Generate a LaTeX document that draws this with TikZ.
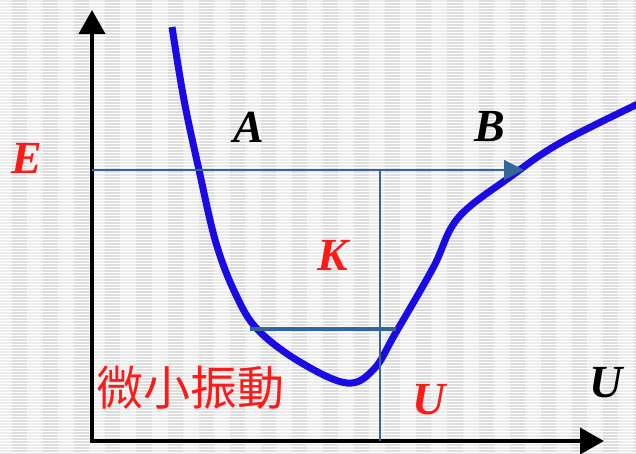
\documentclass[tikz,border=0pt]{standalone}
\usepackage{fontspec}
\setmainfont{Liberation Serif}
\newfontfamily\cjk{Noto Sans CJK TC}
\usetikzlibrary{arrows.meta}
\definecolor{osblue}{HTML}{1A0AE6}
\definecolor{osred}{HTML}{FF1A1A}
\definecolor{osline}{HTML}{336699}
\definecolor{osstripe}{HTML}{DDDDDD}
\tikzset{
  axis/.style    ={line width=4pt, -{Triangle[length=24pt,width=26pt]}},
  level/.style   ={osline, line width=1.3pt},
  swing/.style   ={osline, line width=3.2pt},
  potential/.style={osblue, line width=7pt},
  sym/.style     ={inner sep=0pt, font=\fontsize{46}{48}\selectfont\bfseries\itshape},
  redsym/.style  ={sym, text=osred},
}
\newcommand{\stripebg}[2]{%
  \fill[white] (0,0) rectangle (#1,#2);
  \foreach \yy in {0,3,...,#2}{\fill[osstripe] (0,\yy) rectangle (#1,\yy+2);}
  \foreach \xx in {0,...,20}{\fill[white,opacity=0.45] (-4+31.1*\xx,0) rectangle (12+31.1*\xx,#2);}}

\begin{document}
\begin{tikzpicture}[x=1pt,y=-1pt]
  \useasboundingbox (0,0) rectangle (636,453);
  \stripebg{636}{453}
  % axes
  \coordinate (origin) at (92,441);
  \coordinate (ytop) at (92,10);
  \coordinate (xend) at (604,441);
  \draw[axis] (origin) ++(0,2) -- (ytop);
  \draw[axis] (origin) ++(-2,0) -- (xend);
  % potential curve
  \draw[potential] plot[smooth,tension=0.6] coordinates {
    (172,27) (184,100) (199,170) (216,243) (236,295) (258,330)
    (300,362) (347,383) (374,369) (395,334) (433,268) (458,218)
    (510,177) (560,143) (640,103)};
  % energy levels
  \coordinate (eleft) at (92,170);
  \coordinate (eright) at (524,170);
  \coordinate (ktop) at (380,170);
  \coordinate (kbot) at (380,441);
  \coordinate (sleft) at (250,329);
  \coordinate (sright) at (396,329);
  \draw[level, -{Triangle[length=20pt,width=20pt]}] (eleft) -- (eright);
  \draw[level] (ktop) -- (kbot);
  \draw[swing] (sleft) -- (sright);
  % labels
  \node[redsym] (lE) at (27,158) {E};
  \node[sym] (lA) at (249,127) {A};
  \node[sym] (lB) at (490,127) {B};
  \node[redsym] (lK) at (333,255) {K};
  \node[redsym] (lU) at (429,400) {U};
  \node[sym] (lUx) at (606,383) {U};
  \node[inner sep=0pt, text=osred, font=\cjk\fontsize{47}{49}\selectfont] (small) at (190,388) {微小振動};
\end{tikzpicture}
\end{document}
